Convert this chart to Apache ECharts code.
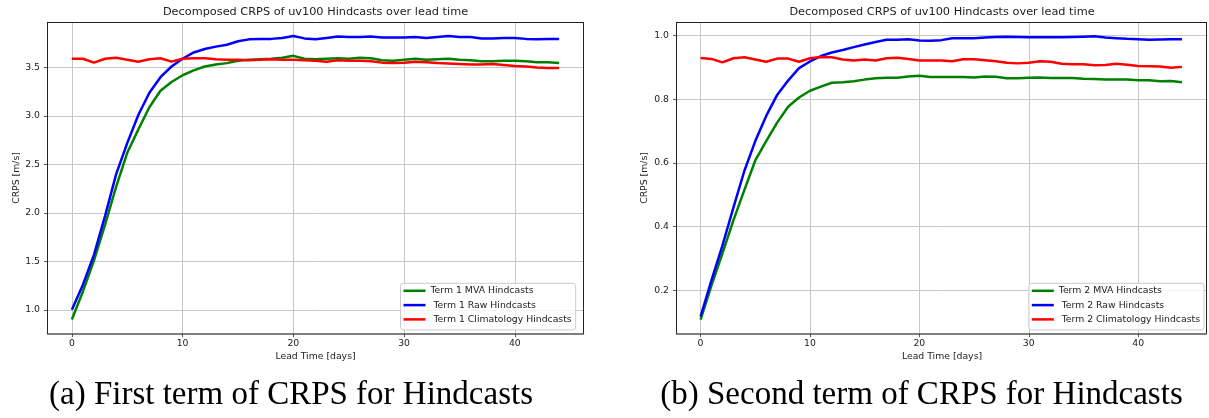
<!DOCTYPE html>
<html>
<head>
<meta charset="utf-8">
<script src="https://cdn.jsdelivr.net/npm/echarts@6/dist/echarts.min.js"></script>
<style>
html, body { margin: 0; padding: 0; background: #fff; }
#chart { width: 1209px; height: 418px; }
</style>
</head>
<body>
<div id="chart"></div>
<script>
// lead time in days
const days = [0, 1, 2, 3, 4, 5, 6, 7, 8, 9, 10, 11, 12, 13, 14, 15, 16, 17, 18, 19, 20, 21, 22,
	23, 24, 25, 26, 27, 28, 29, 30, 31, 32, 33, 34, 35, 36, 37, 38, 39, 40, 41, 42, 43, 44]

// tick labels
const xTicks = [0, 10, 20, 30, 40]
const yTicks1 = [1.0, 1.5, 2.0, 2.5, 3.0, 3.5]
const yTicks2 = [0.2, 0.4, 0.6, 0.8, 1.0]

// first term of CRPS
const term1Mva = [0.90, 1.19, 1.51, 1.88, 2.27, 2.62, 2.86, 3.09, 3.26, 3.35, 3.42, 3.47, 3.51, 3.53,
	3.545, 3.57, 3.58, 3.585, 3.59, 3.60, 3.62, 3.59, 3.585, 3.59, 3.595, 3.59, 3.60, 3.595, 3.575,
	3.57, 3.58, 3.59, 3.58, 3.585, 3.59, 3.58, 3.575, 3.565, 3.565, 3.57, 3.57, 3.565, 3.555, 3.555, 3.545]
const term1Raw = [1.00, 1.26, 1.57, 1.97, 2.40, 2.72, 3.01, 3.24, 3.40, 3.51, 3.59, 3.655, 3.69, 3.715,
	3.735, 3.77, 3.79, 3.795, 3.795, 3.805, 3.825, 3.80, 3.79, 3.805, 3.82, 3.815, 3.815, 3.82, 3.81,
	3.81, 3.81, 3.815, 3.805, 3.815, 3.825, 3.815, 3.815, 3.80, 3.80, 3.805, 3.805, 3.795, 3.79, 3.795, 3.795]
const term1Clim = [3.59, 3.59, 3.55, 3.59, 3.60, 3.58, 3.56, 3.585, 3.595, 3.56, 3.59, 3.595, 3.595, 3.585,
	3.58, 3.58, 3.575, 3.58, 3.585, 3.58, 3.58, 3.575, 3.57, 3.56, 3.575, 3.57, 3.57, 3.565, 3.55,
	3.545, 3.55, 3.56, 3.555, 3.545, 3.54, 3.535, 3.53, 3.53, 3.535, 3.525, 3.515, 3.51, 3.50, 3.495, 3.495]

// second term of CRPS
const term2Mva = [0.108, 0.216, 0.316, 0.42, 0.515, 0.608, 0.669, 0.727, 0.777, 0.806, 0.827, 0.84, 0.852,
	0.854, 0.857, 0.862, 0.866, 0.868, 0.868, 0.872, 0.874, 0.87, 0.87, 0.87, 0.87, 0.869, 0.872, 0.871,
	0.866, 0.866, 0.868, 0.869, 0.867, 0.867, 0.867, 0.865, 0.864, 0.862, 0.862, 0.862, 0.86, 0.86, 0.857, 0.858, 0.854]
const term2Raw = [0.118, 0.232, 0.341, 0.46, 0.575, 0.669, 0.748, 0.814, 0.859, 0.898, 0.919, 0.936, 0.947,
	0.955, 0.964, 0.972, 0.98, 0.987, 0.987, 0.989, 0.985, 0.984, 0.986, 0.992, 0.992, 0.992, 0.994, 0.996,
	0.997, 0.996, 0.995, 0.995, 0.995, 0.995, 0.996, 0.997, 0.998, 0.994, 0.992, 0.99, 0.989, 0.987, 0.988, 0.989, 0.989]
const term2Clim = [0.93, 0.927, 0.916, 0.929, 0.932, 0.925, 0.918, 0.928, 0.928, 0.918, 0.929, 0.933, 0.932,
	0.925, 0.922, 0.925, 0.922, 0.929, 0.931, 0.927, 0.922, 0.922, 0.922, 0.92, 0.926, 0.926, 0.923, 0.92,
	0.915, 0.913, 0.915, 0.92, 0.918, 0.912, 0.91, 0.91, 0.907, 0.908, 0.912, 0.909, 0.905, 0.904, 0.903, 0.899, 0.902]

const names1 = ['Term 1 MVA Hindcasts', ' Term 1 Raw Hindcasts', ' Term 1 Climatology Hindcasts']
const names2 = ['Term 2 MVA Hindcasts', ' Term 2 Raw Hindcasts', ' Term 2 Climatology Hindcasts']
const colors = ['#008000', '#0000ff', '#ff0000']

const FONT = 'DejaVu Sans'
const TEXT = '#222'

// 只显示刻度值上的标签
function stepLabel(step, digits) {
	return v => (Math.abs(v / step - Math.round(v / step)) < 1e-6 ? v.toFixed(digits) : '')
}

function xMain(gridIndex) {
	return {
		type: 'value',
		gridIndex,
		min: -2.2,
		max: 46.2,
		minInterval: 10,
		maxInterval: 10,
		axisLine: { show: true, onZero: false, lineStyle: { color: '#555', width: 1.5 } },
		axisTick: { show: true, length: 3.5, customValues: xTicks, lineStyle: { color: '#333', width: 0.8 } },
		axisLabel: { margin: 5, fontSize: 9.3, fontFamily: FONT, color: TEXT, formatter: stepLabel(10, 0) },
		splitLine: { show: true, lineStyle: { color: '#c8c8c8', width: 1 } }
	}
}

function yMain(gridIndex, min, max, step, ticks) {
	return {
		type: 'value',
		gridIndex,
		min,
		max,
		minInterval: step,
		maxInterval: step,
		axisLine: { show: true, onZero: false, lineStyle: { color: '#222', width: 1 } },
		axisTick: { show: true, length: 3.5, customValues: ticks, lineStyle: { color: '#333', width: 0.8 } },
		axisLabel: { margin: 7.5, fontSize: 9.3, fontFamily: FONT, color: TEXT, formatter: stepLabel(step, 1) },
		splitLine: { show: true, lineStyle: { color: '#c8c8c8', width: 1 } }
	}
}

// 上边框和右边框
function frame(gridIndex, position, min, max) {
	return {
		type: 'value',
		gridIndex,
		position,
		min,
		max,
		axisLine: { show: true, onZero: false, lineStyle: { color: '#222', width: 1 } },
		axisTick: { show: false },
		axisLabel: { show: false },
		splitLine: { show: false }
	}
}

function makeSeries(names, arrays, xIdx, yIdx) {
	return arrays.map((arr, i) => ({
		name: names[i],
		type: 'line',
		xAxisIndex: xIdx,
		yAxisIndex: yIdx,
		showSymbol: false,
		symbol: 'none',
		color: colors[i],
		lineStyle: { width: 2.5, color: colors[i] },
		data: days.map((d, k) => [d, arr[k]])
	}))
}

function makeLegend(names, right) {
	return {
		data: names,
		orient: 'vertical',
		right,
		top: 283.3,
		icon: 'rect',
		itemWidth: 22,
		itemHeight: 2.5,
		itemGap: 3.3,
		padding: [2, 4, 5, 3],
		backgroundColor: 'rgba(255,255,255,0.8)',
		borderColor: '#cccccc',
		borderWidth: 1,
		borderRadius: 3,
		textStyle: { fontSize: 9.3, lineHeight: 11, fontFamily: FONT, color: TEXT }
	}
}

function label(text, x, y, size, rotation) {
	return {
		type: 'text',
		x,
		y,
		rotation: rotation || 0,
		style: {
			text,
			fill: TEXT,
			font: size + 'px "' + FONT + '"',
			align: 'center',
			verticalAlign: 'middle'
		}
	}
}

function caption(text, x, y) {
	return {
		type: 'text',
		x,
		y,
		style: {
			text,
			fill: '#000',
			font: '33px "Liberation Serif"',
			align: 'center',
			verticalAlign: 'middle'
		}
	}
}

const chart = echarts.init(document.getElementById('chart'))
chart.setOption({
	animation: false,
	backgroundColor: '#fff',
	grid: [
		{ left: 47.5, top: 22.3, width: 536, height: 311.4 },
		{ left: 676.5, top: 22.3, width: 530.5, height: 311.4 }
	],
	xAxis: [xMain(0), frame(0, 'top', -2.2, 46.2), xMain(1), frame(1, 'top', -2.2, 46.2)],
	yAxis: [
		yMain(0, 0.754, 3.966, 0.5, yTicks1),
		frame(0, 'right', 0.754, 3.966),
		yMain(1, 0.064, 1.042, 0.2, yTicks2),
		frame(1, 'right', 0.064, 1.042)
	],
	legend: [makeLegend(names1, 633.3), makeLegend(names2, 5)],
	series: [
		...makeSeries(names1, [term1Mva, term1Raw, term1Clim], 0, 0),
		...makeSeries(names2, [term2Mva, term2Raw, term2Clim], 2, 2)
	],
	graphic: [
		label('Decomposed CRPS of uv100 Hindcasts over lead time', 315.5, 12, 11.3),
		label('Decomposed CRPS of uv100 Hindcasts over lead time', 942, 12, 11.3),
		label('Lead Time [days]', 315.5, 357, 9.3),
		label('Lead Time [days]', 942, 357, 9.3),
		label('CRPS [m/s]', 17, 178, 9.3, Math.PI / 2),
		label('CRPS [m/s]', 645, 178, 9.3, Math.PI / 2),
		caption('(a) First term of CRPS for Hindcasts', 291, 395),
		caption('(b) Second term of CRPS for Hindcasts', 921.5, 395)
	]
})
</script>
</body>
</html>
